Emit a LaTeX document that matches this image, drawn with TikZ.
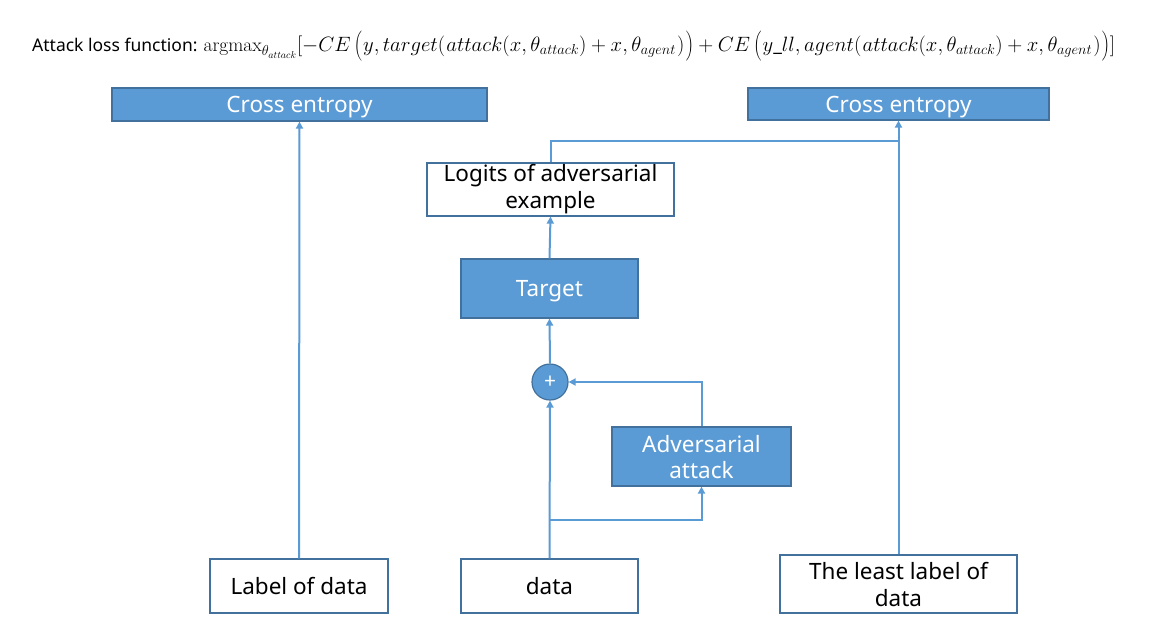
\documentclass[tikz,border=0pt]{standalone}
\usepackage{fontspec}
\setsansfont{Noto Sans}
\usetikzlibrary{arrows.meta}
\definecolor{fillblue}{HTML}{5B9BD5}
\definecolor{edgeblue}{HTML}{41719C}
\newcommand\obigL{\mathopen{\left(\vrule height 19pt depth 9pt width 0pt\right.}}
\newcommand\obigR{\mathclose{\left.\vrule height 19pt depth 9pt width 0pt\right)}}
\newcommand\ibigL{\mathopen{\left(\vrule height 16pt depth 6pt width 0pt\right.}}
\newcommand\ibigR{\mathclose{\left.\vrule height 16pt depth 6pt width 0pt\right)}}
\begin{document}
\begin{tikzpicture}[x=1pt,y=-1pt,
  bluebox/.style={draw=edgeblue,line width=1.2pt,fill=fillblue,text=white,inner sep=0pt,font=\sffamily\fontsize{22.5}{26}\selectfont,align=center,text depth=0pt},
  whitebox/.style={draw=edgeblue,line width=1.2pt,fill=white,text=black,inner sep=0pt,font=\sffamily\fontsize{22.5}{27}\selectfont,align=center},
  conn/.style={draw=fillblue,line width=2pt,-{Triangle[length=7pt,width=7pt]}},
  plain/.style={draw=fillblue,line width=2pt}]
\useasboundingbox (0,0) rectangle (1170,635);
\fill[white] (0,0) rectangle (1170,635);

\node[anchor=west,inner sep=0pt] (title) at (32,46)
 {\sffamily\fontsize{17.5}{20}\selectfont Attack loss function: \fontsize{19.5}{22}\selectfont$\mathrm{argmax}_{\theta_{attack}}[-CE\,\obigL y,target\ibigL attack(x,\theta_{attack})+x,\theta_{agent}\ibigR\obigR+CE\,\obigL y\_ll,agent\ibigL attack(x,\theta_{attack})+x,\theta_{agent}\ibigR\obigR]$};

\node[bluebox,minimum width=375pt,minimum height=33pt] (ce1) at (299.5,104.5) {Cross entropy};
\node[bluebox,minimum width=301pt,minimum height=32pt] (ce2) at (898.5,104) {Cross entropy};
\node[whitebox,minimum width=247pt,minimum height=53pt] (logits) at (550.5,189.5) {Logits of adversarial\\example};
\node[bluebox,minimum width=177pt,minimum height=59pt] (target) at (549.5,288.5) {Target};
\node[circle,draw=edgeblue,line width=1.2pt,fill=fillblue,text=white,minimum size=36pt,inner sep=0pt,font=\sffamily\fontsize{21}{22}\selectfont] (plus) at (550,382) {+};
\node[bluebox,minimum width=179pt,minimum height=59pt] (adv) at (701.5,456.5) {Adversarial\\attack};
\node[whitebox,minimum width=178pt,minimum height=54pt] (label) at (299,586) {Label of data};
\node[whitebox,minimum width=177pt,minimum height=54pt] (data) at (549.5,586) {data};
\node[whitebox,minimum width=237pt,minimum height=58pt] (least) at (898.5,584) {The least label of\\data};

\coordinate (j1) at (898.5,141);
\coordinate (j2) at (550,520);

\draw[conn] (label.north) -- (ce1.south);
\draw[conn] (least.north) -- (ce2.south);
\draw[plain] (logits.north) -- (logits.north |- j1) -- (j1);
\draw[conn] (target.north) -- (logits.south);
\draw[conn] (plus.north) -- (target.south);
\draw[conn] (data.north) -- (plus.south);
\draw[conn] (j2) -| (adv.south);
\draw[conn] (adv.north) |- (plus.east);
\end{tikzpicture}
\end{document}
